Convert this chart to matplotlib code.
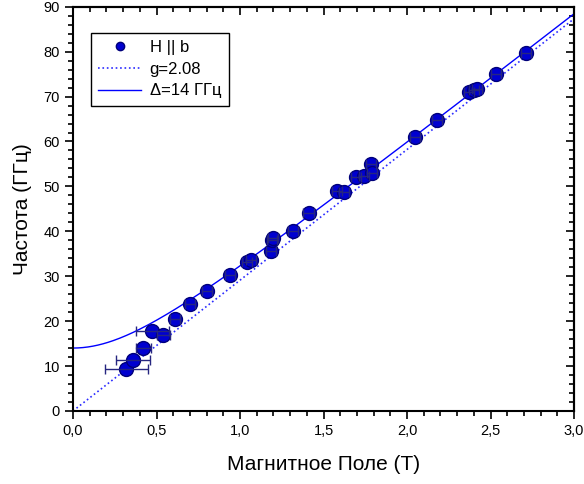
import numpy as np
import matplotlib
matplotlib.use('Agg')
import matplotlib.pyplot as plt
from matplotlib.ticker import MultipleLocator, FuncFormatter

plt.rcParams['font.family'] = ['Liberation Sans', 'DejaVu Sans']

#%% data
H = [0.32, 0.36, 0.42, 0.475, 0.54, 0.61, 0.70, 0.80, 0.94, 1.04, 1.065,
     1.185, 1.19, 1.20, 1.32, 1.41, 1.58, 1.62, 1.695, 1.74, 1.785, 1.79,
     2.05, 2.18, 2.37, 2.40, 2.42, 2.53, 2.71]
freq = [9.4, 11.4, 14.0, 17.9, 16.9, 20.5, 23.8, 26.7, 30.2, 33.1, 33.5,
        35.6, 38.1, 38.6, 40.1, 44.0, 48.9, 48.7, 52.0, 52.4, 55.0, 52.9,
        61.1, 64.8, 71.0, 71.4, 71.8, 75.0, 79.7]
H_err = [0.13, 0.10, 0.045, 0.10, 0.04, 0.03, 0.03, 0.03, 0.03, 0.03, 0.03,
         0.03, 0.03, 0.03, 0.03, 0.03, 0.03, 0.03, 0.03, 0.03, 0.03, 0.03,
         0.03, 0.03, 0.03, 0.03, 0.03, 0.03, 0.03]

g = 2.08
delta = 14.0      # GHz
muB_h = 13.996    # GHz/T

#%% plot
fig = plt.figure(figsize=(5.84, 4.84), dpi=100)
ax = fig.add_axes([0.125, 0.151, 0.858, 0.835])

hh = np.linspace(0, 3, 301)
ax.plot(hh, g * muB_h * hh, ':', color='#2a2aff', lw=1.2, label='g=2.08', zorder=2)
ax.plot(hh, np.sqrt(delta**2 + (g * muB_h * hh)**2), '-', color='#0000ff',
        lw=1.0, label='\u0394=14 \u0413\u0413\u0446', zorder=2)

ax.plot(H, freq, 'o', ms=10, mfc='#0000d0', mec='#00007a', mew=1.0,
        label='H || b', zorder=3)
ax.errorbar(H, freq, xerr=H_err, fmt='none', ecolor='#262680', elinewidth=1.0,
            capsize=3.5, capthick=1.0, zorder=4)

ax.set_xlim(0, 3.0)
ax.set_ylim(0, 90)
ax.xaxis.set_major_locator(MultipleLocator(0.5))
ax.xaxis.set_minor_locator(MultipleLocator(0.1))
ax.yaxis.set_major_locator(MultipleLocator(10))
ax.yaxis.set_minor_locator(MultipleLocator(2))
ax.xaxis.set_major_formatter(FuncFormatter(lambda v, p: ('%.1f' % v).replace('.', ',')))

for s in ax.spines.values():
    s.set_linewidth(1.5)
ax.tick_params(which='both', labelsize=10.5, width=1.2)
ax.tick_params(which='major', length=6)
ax.tick_params(which='minor', length=3.5)
ax.tick_params(which='both', direction='out', top=False, right=False)

# inward ticks on top and right
ax2 = ax.secondary_xaxis('top')
ax2.xaxis.set_major_locator(MultipleLocator(0.5))
ax2.xaxis.set_minor_locator(MultipleLocator(0.1))
ax2.tick_params(which='both', direction='in', labeltop=False, width=1.2)
ax2.tick_params(which='major', length=6)
ax2.tick_params(which='minor', length=3.5)
ax3 = ax.secondary_yaxis('right')
ax3.yaxis.set_major_locator(MultipleLocator(10))
ax3.yaxis.set_minor_locator(MultipleLocator(2))
ax3.tick_params(which='both', direction='in', labelright=False, width=1.2)
ax3.tick_params(which='major', length=6)
ax3.tick_params(which='minor', length=3.5)
for a in (ax2, ax3):
    for s in a.spines.values():
        s.set_linewidth(1.5)

ax.set_xlabel('\u041c\u0430\u0433\u043d\u0438\u0442\u043d\u043e\u0435 \u041f\u043e\u043b\u0435 (\u0422)',
              fontsize=15, labelpad=12)
ax.set_ylabel('\u0427\u0430\u0441\u0442\u043e\u0442\u0430 (\u0413\u0413\u0446)', fontsize=15, labelpad=8)

handles, labels = ax.get_legend_handles_labels()
order = [2, 0, 1]
leg = ax.legend([handles[i] for i in order], [labels[i] for i in order],
                loc='upper left', bbox_to_anchor=(0.035, 0.936), borderaxespad=0,
                fontsize=12, markerscale=0.6, fancybox=False, framealpha=1,
                edgecolor='black', handlelength=2.6, handletextpad=0.5,
                labelspacing=0.4, borderpad=0.45)
leg.get_frame().set_linewidth(1.0)

fig.savefig('out.png', dpi=100)
